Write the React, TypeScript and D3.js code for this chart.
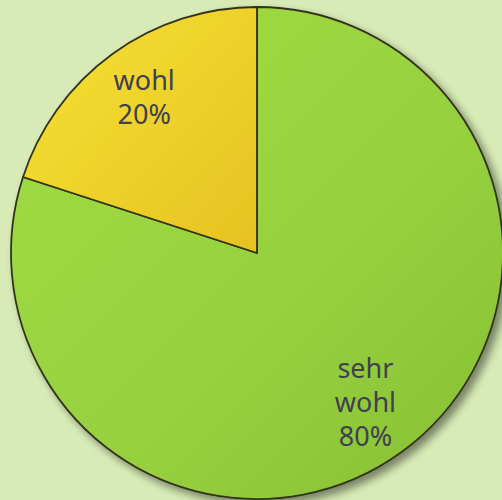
import React from "react";
import * as d3 from "d3";

const categories = ["sehr wohl", "wohl"];
const values = [80, 20];
const labelLines = [["sehr", "wohl", "80%"], ["wohl", "20%"]];

const W = 502;
const H = 500;

export default function App() {
  const cx = 257;
  const cy = 253;
  const r = 246;
  const pie = d3.pie<number>().sort(null).value((d) => d);
  const arcs = pie(values);
  const arc = d3.arc<d3.PieArcDatum<number>>().innerRadius(0).outerRadius(r);
  const labelR = [0.75, 0.78];
  const fills = ["url(#gGreen)", "url(#gYellow)"];
  const lineH = 34;
  return (
    <svg width={W} height={H} style={{ position: "fixed", left: 0, top: 0, display: "block" }}>
      <defs>
        <linearGradient id="gGreen" x1="0" y1="0" x2="1" y2="1">
          <stop offset="0%" stopColor="#a2dc44" />
          <stop offset="60%" stopColor="#96d03e" />
          <stop offset="100%" stopColor="#86c034" />
        </linearGradient>
        <linearGradient id="gYellow" x1="0" y1="0" x2="1" y2="1">
          <stop offset="0%" stopColor="#f6e234" />
          <stop offset="100%" stopColor="#e6c222" />
        </linearGradient>
        <filter id="shadow" x="-10%" y="-10%" width="130%" height="130%">
          <feGaussianBlur in="SourceAlpha" stdDeviation="4" />
          <feOffset dx="5" dy="5" result="b" />
          <feComponentTransfer>
            <feFuncA type="linear" slope="0.45" />
          </feComponentTransfer>
          <feMerge>
            <feMergeNode />
            <feMergeNode in="SourceGraphic" />
          </feMerge>
        </filter>
      </defs>
      <rect width={W} height={H} fill="#d8ebb6" />
      <g transform={`translate(${cx},${cy})`}>
        <g filter="url(#shadow)">
          {arcs.map((a, i) => (
            <path key={categories[i]} d={arc(a) || ""} fill={fills[i]} stroke="#33331a" strokeWidth={1.8} strokeLinejoin="round" />
          ))}
        </g>
        {arcs.map((a, i) => {
          const la = d3.arc<d3.PieArcDatum<number>>().innerRadius(r * labelR[i]).outerRadius(r * labelR[i]);
          const [lx, ly] = la.centroid(a);
          const lines = labelLines[i];
          const y0 = ly - ((lines.length - 1) * lineH) / 2;
          return (
            <text key={"t" + i} textAnchor="middle" fontFamily="'Noto Sans', sans-serif" fontSize={27} fill="#404050">
              {lines.map((s, j) => (
                <tspan key={j} x={lx} y={y0 + j * lineH} dy="0.35em">{s}</tspan>
              ))}
            </text>
          );
        })}
      </g>
    </svg>
  );
}
